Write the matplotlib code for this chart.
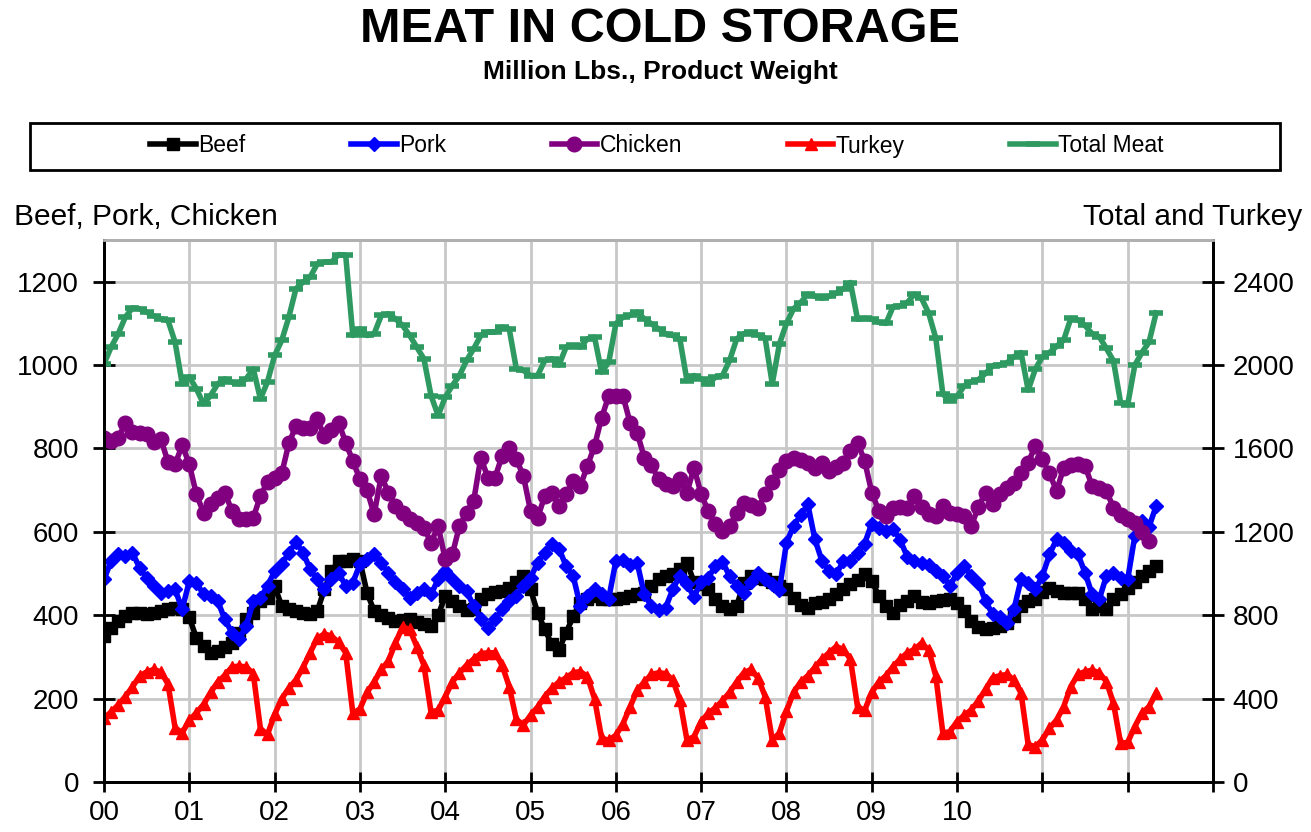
import numpy as np
import matplotlib
matplotlib.use("Agg")
import matplotlib.pyplot as plt
from matplotlib.patches import Rectangle

plt.rcParams['font.family'] = ['Liberation Sans', 'DejaVu Sans']

# monthly end-of-month stocks, Jan 2000 onward (million lbs)
beef = [350, 370, 385, 398, 405, 406, 402, 405, 410, 414, 418, 414,
        395, 345, 326, 310, 314, 325, 334, 358, 390, 406, 434, 442,
        470, 422, 414, 410, 406, 402, 410, 462, 506, 530, 530, 534,
        530, 454, 410, 400, 394, 386, 388, 390, 384, 380, 374, 400,
        446, 434, 422, 412, 414, 438, 450, 455, 458, 466, 480, 494,
        462, 406, 366, 330, 317, 358, 397, 430, 440, 446, 440, 438,
        440, 442, 446, 450, 454, 470, 486, 494, 498, 510, 526, 480,
        475, 462, 440, 422, 414, 422, 478, 494, 490, 486, 480, 470,
        462, 442, 425, 418, 430, 432, 440, 450, 462, 475, 485, 498,
        482, 446, 422, 406, 425, 435, 446, 432, 430, 434, 436, 438,
        430, 410, 385, 372, 366, 370, 374, 382, 398, 422, 434, 438,
        455, 466, 458, 454, 454, 454, 438, 414, 422, 414, 438, 450,
        466, 480, 495, 505, 518]

pork = [486, 530, 546, 542, 550, 514, 490, 470, 454, 458, 462, 414,
        482, 478, 450, 446, 434, 390, 358, 342, 374, 434, 442, 470,
        506, 522, 550, 575, 550, 510, 486, 462, 486, 502, 470, 478,
        522, 534, 546, 526, 502, 480, 462, 442, 454, 462, 450, 486,
        505, 486, 470, 458, 422, 390, 370, 390, 414, 434, 446, 470,
        490, 526, 550, 570, 560, 518, 494, 422, 446, 462, 450, 440,
        530, 532, 520, 526, 450, 422, 412, 418, 462, 495, 474, 444,
        480, 490, 518, 528, 494, 470, 454, 480, 502, 486, 476, 460,
        574, 614, 640, 666, 582, 530, 506, 498, 530, 530, 550, 572,
        620, 610, 602, 608, 580, 540, 530, 526, 520, 505, 494, 470,
        502, 518, 494, 478, 434, 402, 395, 382, 414, 486, 478, 462,
        494, 546, 582, 574, 554, 546, 502, 450, 438, 494, 502, 490,
        486, 590, 625, 612, 662]

chicken = [826, 818, 826, 860, 840, 836, 834, 815, 822, 768, 762, 808,
           762, 690, 646, 666, 682, 694, 650, 630, 632, 634, 686, 720,
           730, 740, 812, 854, 850, 850, 870, 830, 845, 862, 814, 770,
           726, 700, 642, 734, 694, 662, 645, 632, 622, 610, 574, 614,
           534, 546, 614, 646, 674, 778, 730, 730, 782, 802, 774, 734,
           650, 634, 686, 694, 662, 690, 722, 710, 758, 806, 874, 926,
           926, 926, 862, 838, 778, 760, 726, 715, 710, 726, 694, 754,
           690, 650, 618, 602, 614, 646, 668, 665, 658, 690, 720, 748,
           770, 778, 772, 765, 754, 765, 745, 755, 766, 794, 814, 770,
           694, 650, 638, 658, 660, 658, 686, 660, 642, 638, 662, 646,
           642, 638, 614, 660, 694, 666, 690, 706, 718, 742, 766, 806,
           774, 740, 698, 754, 760, 762, 758, 710, 705, 698, 658, 640,
           630, 622, 600, 578]

turkey = [306, 336, 370, 410, 456, 508, 528, 540, 528, 470, 260, 236,
          296, 332, 372, 430, 480, 512, 552, 556, 552, 520, 256, 228,
          324, 400, 450, 490, 550, 620, 690, 710, 700, 670, 620, 330,
          350, 430, 480, 540, 580, 668, 744, 732, 650, 560, 336, 344,
          410, 480, 524, 560, 590, 616, 620, 620, 560, 458, 300, 274,
          320, 360, 410, 450, 480, 500, 524, 530, 506, 400, 210, 200,
          224, 280, 360, 440, 480, 516, 524, 520, 490, 394, 202, 218,
          290, 330, 356, 390, 430, 480, 524, 540, 500, 410, 202, 234,
          340, 430, 480, 510, 550, 590, 620, 650, 636, 590, 360, 344,
          430, 480, 510, 554, 590, 620, 636, 666, 634, 510, 234, 242,
          290, 320, 346, 390, 444, 500, 510, 516, 490, 426, 180, 170,
          202, 258, 298, 362, 458, 516, 530, 536, 524, 482, 378, 186,
          190, 266, 330, 362, 426]

total = [2006, 2086, 2150, 2230, 2274, 2270, 2254, 2236, 2222, 2214, 2110, 1910,
         1944, 1886, 1814, 1854, 1910, 1934, 1918, 1910, 1934, 1982, 1838, 1920,
         2046, 2118, 2230, 2366, 2398, 2422, 2486, 2494, 2494, 2530, 2526, 2142,
         2174, 2142, 2150, 2238, 2246, 2222, 2190, 2142, 2086, 2030, 1854, 1758,
         1846, 1902, 1950, 2022, 2078, 2142, 2158, 2158, 2182, 2174, 1982, 1974,
         1950, 1950, 2022, 2030, 2000, 2086, 2094, 2086, 2126, 2134, 1966, 2014,
         2198, 2230, 2238, 2254, 2222, 2198, 2174, 2150, 2142, 2126, 1926, 1950,
         1934, 1910, 1942, 1950, 2022, 2126, 2150, 2158, 2144, 2130, 1910, 2100,
         2200, 2270, 2300, 2340, 2330, 2320, 2330, 2344, 2366, 2396, 2220, 2224,
         2220, 2206, 2200, 2280, 2284, 2300, 2340, 2320, 2250, 2130, 1860, 1830,
         1850, 1900, 1920, 1930, 1960, 1996, 2000, 2010, 2040, 2060, 1880, 1980,
         2040, 2060, 2090, 2120, 2224, 2216, 2190, 2150, 2136, 2080, 2020, 1820,
         1810, 2000, 2060, 2110, 2250]

year_labels = ['00', '01', '02', '03', '04', '05', '06', '07', '08', '09', '10', '', '', '']

def months(s):
    return np.arange(len(s)) / 12.0

W, H = 1311, 832
fig = plt.figure(figsize=(W / 100, H / 100), dpi=100)
ax = fig.add_axes([104 / W, 1 - 782 / H, (1213 - 104) / W, (782 - 240) / H])
ax2 = ax.twinx()

ln_beef, = ax.plot(months(beef), beef, color='black', lw=4, marker='s', ms=8.5, label='Beef')
ln_pork, = ax.plot(months(pork), pork, color='#0000ff', lw=4, marker='D', ms=7, label='Pork')
ln_chick, = ax.plot(months(chicken), chicken, color='#800080', lw=4, marker='o', ms=10.5, label='Chicken')
ln_turk, = ax2.plot(months(turkey), turkey, color='#ff0000', lw=4, marker='^', ms=9, label='Turkey')
ln_tot, = ax2.plot(months(total), total, color='#2e9960', lw=4, marker='_', ms=10, mew=4,
                   label='Total Meat')

ax.set_xlim(0, 13)
ax.set_ylim(0, 1300)
ax2.set_ylim(0, 2600)
ax.set_xticks(range(14))
ax.set_xticklabels(year_labels)
ax.set_yticks(range(0, 1201, 200))
ax2.set_yticks(range(0, 2401, 400))

ax.grid(True, color='#c8c8c8', lw=2)
ax.set_axisbelow(True)
ax2.patch.set_visible(False)

for a in (ax, ax2):
    for side in ('left', 'right', 'bottom'):
        a.spines[side].set_color('black')
        a.spines[side].set_linewidth(2)
    a.spines['top'].set_color('#b0b0b0')
    a.spines['top'].set_linewidth(2)

ax.tick_params(axis='y', direction='inout', length=16, width=2, labelsize=20, pad=10)
ax.tick_params(axis='x', direction='inout', length=14, width=2, labelsize=20, pad=6)
ax2.tick_params(axis='y', direction='inout', length=16, width=2, labelsize=20, pad=6)

fig.text(660 / W, 1 - 29 / H, 'MEAT IN COLD STORAGE', ha='center', va='center',
         fontsize=35, fontweight='bold')
fig.text(660 / W, 1 - 72 / H, 'Million Lbs., Product Weight', ha='center', va='center',
         fontsize=19, fontweight='bold')
fig.text(14 / W, 1 - 217 / H, 'Beef, Pork, Chicken', ha='left', va='center', fontsize=21.5)
fig.text(1302 / W, 1 - 217 / H, 'Total and Turkey', ha='right', va='center', fontsize=21.5)

# legend box spans nearly the full width, entries sit centered inside it
fig.patches.append(Rectangle((30 / W, 1 - 170 / H), 1250 / W, 47 / H, transform=fig.transFigure,
                             fill=False, edgecolor='black', lw=2))
fig.legend(handles=[ln_beef, ln_pork, ln_chick, ln_turk, ln_tot], loc='center',
           bbox_to_anchor=(657 / W, 1 - 146 / H), ncol=5, frameon=False, fontsize=16.5,
           columnspacing=4.6, handlelength=2.0, handletextpad=0.1)

fig.savefig('out.png', dpi=100)
